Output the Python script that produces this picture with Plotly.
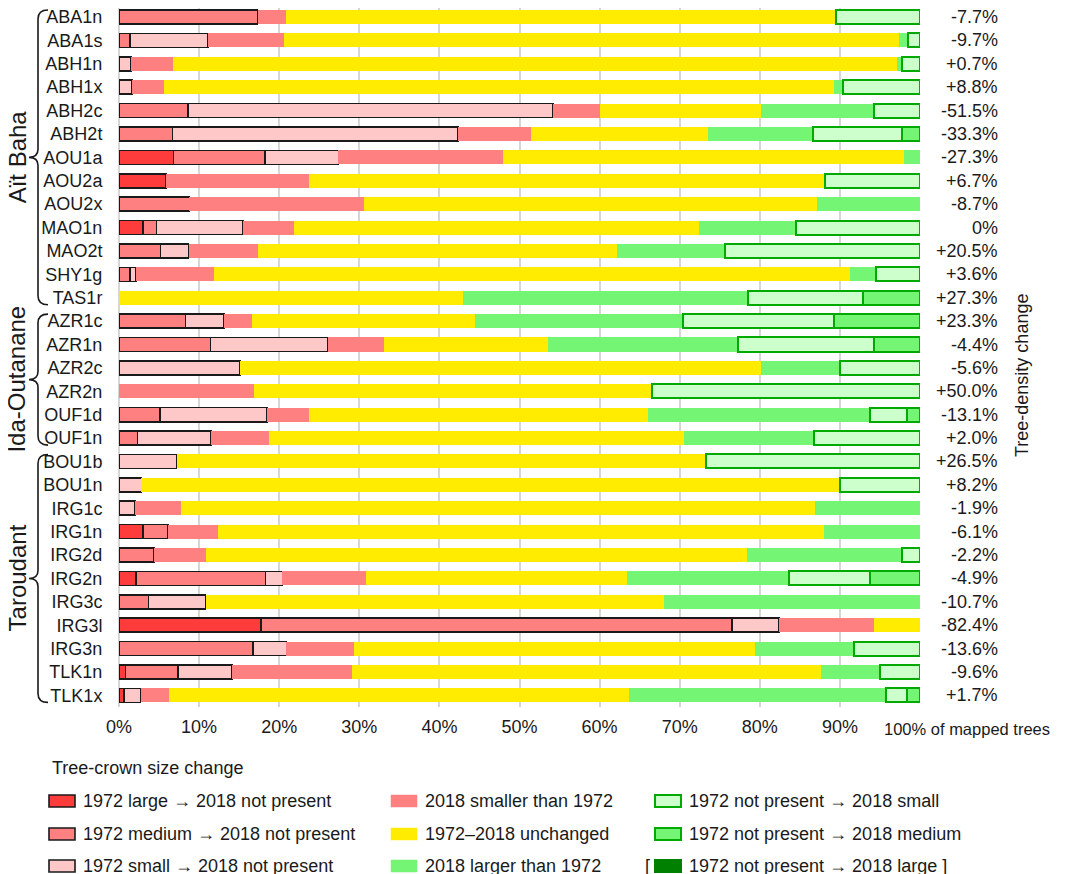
import plotly.graph_objects as go

# sites, top to bottom
sites = ["ABA1n", "ABA1s", "ABH1n", "ABH1x", "ABH2c", "ABH2t", "AOU1a", "AOU2a", "AOU2x",
         "MAO1n", "MAO2t", "SHY1g", "TAS1r",
         "AZR1c", "AZR1n", "AZR2c", "AZR2n", "OUF1d", "OUF1n",
         "BOU1b", "BOU1n", "IRG1c", "IRG1n", "IRG2d", "IRG2n", "IRG3c", "IRG3l", "IRG3n",
         "TLK1n", "TLK1x"]

# % of mapped trees per crown-size change class
large_lost = [0, 0, 0, 0, 0, 0, 6.8, 5.9, 0, 3.0, 0, 0, 0,
              0, 0, 0, 0, 0, 0,
              0, 0, 0, 3.0, 0, 2.1, 0, 17.7, 0, 0.8, 0.65]
medium_lost = [17.3, 1.4, 0, 0, 8.6, 6.7, 11.4, 0, 8.8, 1.7, 5.2, 1.4, 0,
               8.3, 11.4, 0, 0, 5.1, 2.3,
               0, 0, 0, 3.1, 4.4, 16.2, 3.7, 58.8, 16.7, 6.6, 0]
small_lost = [0, 9.7, 1.5, 1.6, 45.6, 35.6, 9.2, 0, 0, 10.8, 3.5, 0.75, 0,
              4.8, 14.7, 15.1, 0, 13.4, 9.2,
              7.2, 2.8, 2.0, 0, 0, 2.1, 7.1, 5.9, 4.2, 6.7, 2.05]
smaller = [3.6, 9.5, 5.2, 4.0, 5.9, 9.1, 20.6, 17.8, 21.8, 6.3, 8.7, 9.75, 0,
           3.5, 7.0, 0, 16.9, 5.2, 7.25,
           0, 0, 5.7, 6.2, 6.5, 10.4, 0, 11.9, 8.5, 15.0, 3.5]
unchanged = [68.6, 76.8, 90.4, 83.7, 20.1, 22.1, 50.0, 64.5, 56.6, 50.6, 44.8, 79.4, 43.0,
             27.9, 20.4, 65.1, 49.7, 42.3, 51.75,
             66.1, 87.2, 79.2, 75.7, 67.5, 32.6, 57.2, 5.7, 50.0, 58.6, 57.5]
larger = [0, 1.1, 0.7, 1.1, 14.0, 13.2, 2.0, 0, 12.8, 12.1, 13.5, 3.2, 35.5,
          25.9, 23.8, 9.8, 0, 27.8, 16.3,
          0, 0, 13.1, 12.0, 19.3, 20.3, 32.0, 0, 12.3, 7.3, 32.0]
new_small = [10.5, 1.5, 2.2, 9.6, 5.8, 11.1, 0, 11.8, 0, 15.5, 24.3, 5.5, 14.4,
             18.9, 17.0, 10.0, 33.4, 4.6, 13.2,
             26.7, 10.0, 0, 0, 2.3, 10.1, 0, 0, 8.3, 5.0, 2.7]
new_medium = [0, 0, 0, 0, 0, 2.2, 0, 0, 0, 0, 0, 0, 7.1,
              10.7, 5.7, 0, 0, 1.6, 0,
              0, 0, 0, 0, 0, 6.2, 0, 0, 0, 0, 1.6]

density_change = ["-7.7%", "-9.7%", "+0.7%", "+8.8%", "-51.5%", "-33.3%", "-27.3%", "+6.7%",
                  "-8.7%", "0%", "+20.5%", "+3.6%", "+27.3%", "+23.3%", "-4.4%", "-5.6%",
                  "+50.0%", "-13.1%", "+2.0%", "+26.5%", "+8.2%", "-1.9%", "-6.1%", "-2.2%",
                  "-4.9%", "-10.7%", "-82.4%", "-13.6%", "-9.6%", "+1.7%"]

regions = ["Aït Baha", "Ida-Outanane", "Taroudant"]
region_rows = [(0, 12), (13, 18), (19, 29)]

x_ticks = [0, 10, 20, 30, 40, 50, 60, 70, 80, 90, 100]

FONT = "Liberation Sans, Arial, sans-serif"
TXT = "#1a1a1a"
GREEN_LINE = "#00aa00"
FS = 18

series = [
    ("1972 large \u2192 2018 not present", large_lost, "#ff3c3c", "#1a1a1a", 1.6),
    ("1972 medium \u2192 2018 not present", medium_lost, "#ff8080", "#1a1a1a", 1.6),
    ("1972 small \u2192 2018 not present", small_lost, "#ffc8c8", "#1a1a1a", 1.6),
    ("2018 smaller than 1972", smaller, "#ff8080", None, 0),
    ("1972\u20132018 unchanged", unchanged, "#ffec00", None, 0),
    ("2018 larger than 1972", larger, "#74f574", None, 0),
    ("1972 not present \u2192 2018 small", new_small, "#ccffcc", GREEN_LINE, 2),
    ("1972 not present \u2192 2018 medium", new_medium, "#74f574", GREEN_LINE, 2),
]

# the page body adds an 8px offset, so the figure is 8px smaller; coordinates below
# are page pixels and get converted by px()/py()
OFF = 8
W, H = 1065 - OFF, 874 - OFF
ML, MT = 119 - OFF, 0
PW = 801
PH = 707 - OFF - MT
MR, MB = W - ML - PW, H - MT - PH
FIRST, LAST = 17, 695.4          # page y of first / last row centre
ROW = (LAST - FIRST) / (len(sites) - 1)
Y_TOP = -(FIRST - OFF - MT) / ROW
Y_BOT = Y_TOP + PH / ROW


def px(x):
    return (x - OFF - ML) / PW


def py(y):
    return 1 - (y - OFF - MT) / PH


fig = go.Figure()
for name, vals, color, lcolor, lw in series:
    fig.add_trace(go.Bar(
        y=sites, x=[v if v > 0 else None for v in vals], orientation="h", name=name,
        marker=dict(color=color, line=dict(color=lcolor or color, width=lw)),
        showlegend=False, cliponaxis=False,
        hovertemplate="%{y}: %{x}%<extra>" + name + "</extra>",
    ))

annotations = []
shapes = []


def label(x, y, text, size=FS, xanchor="center", angle=0):
    annotations.append(dict(x=px(x), y=py(y), xref="paper", yref="paper", text=text,
                            showarrow=False, xanchor=xanchor, yanchor="middle",
                            textangle=angle, font=dict(size=size, color=TXT, family=FONT)))


# tree-density change labels on the right
for s, d in zip(sites, density_change):
    annotations.append(dict(x=px(1000), xref="paper", y=s, yref="y", text=d, showarrow=False,
                            xanchor="right", yanchor="middle",
                            font=dict(size=FS, color=TXT, family=FONT)))

label(1022, 376, "Tree-density change", angle=-90)
label(882, 729, "100% of mapped trees", size=16.5, xanchor="left")

# region braces and labels
for reg, (r0, r1) in zip(regions, region_rows):
    top = FIRST + r0 * ROW - 7
    bot = FIRST + r1 * ROW + 7
    mid = (top + bot) / 2
    xl, xt, xe = 38, 29, 48
    path = (f"M{px(xe)},{py(top)} Q{px(xl)},{py(top)} {px(xl)},{py(top + 9)} "
            f"L{px(xl)},{py(mid - 8)} Q{px(xl)},{py(mid)} {px(xt)},{py(mid)} "
            f"Q{px(xl)},{py(mid)} {px(xl)},{py(mid + 8)} "
            f"L{px(xl)},{py(bot - 9)} Q{px(xl)},{py(bot)} {px(xe)},{py(bot)}")
    shapes.append(dict(type="path", path=path, xref="paper", yref="paper",
                       line=dict(color=TXT, width=1.6)))
    label(17, mid, reg, size=24, angle=-90)

# legend drawn by hand in three columns
label(50, 768, "Tree-crown size change", xanchor="left")
col_x = [48, 390, 654]
row_y = [801, 834, 866]
legend_items = [(s[0], s[2], s[3], s[4]) for s in series]
legend_items.append(("1972 not present \u2192 2018 large ]", "#008000", "#008000", 2))
for i, (name, color, lcolor, lw) in enumerate(legend_items):
    cx, cy = col_x[i // 3], row_y[i % 3]
    shapes.append(dict(type="rect", xref="paper", yref="paper",
                       x0=px(cx + 1), x1=px(cx + 27), y0=py(cy - 6), y1=py(cy + 6),
                       fillcolor=color,
                       line=dict(color=lcolor or color, width=max(lw, 0.5))))
    label(cx + 33, cy, name, xanchor="left")
label(647, row_y[2], "[")

fig.update_layout(
    width=W, height=H,
    margin=dict(l=ML, r=MR, t=MT, b=MB, autoexpand=False),
    barmode="stack", bargap=0.4,
    plot_bgcolor="white", paper_bgcolor="white",
    font=dict(family=FONT, size=FS, color=TXT),
    xaxis=dict(range=[0, 100], tickvals=x_ticks,
               ticktext=[f"{v}%" for v in x_ticks[:-1]] + [""],
               showgrid=True, gridcolor="#d6d6d6", gridwidth=1.5,
               zeroline=True, zerolinecolor="#d6d6d6", zerolinewidth=1.5,
               showline=False, ticks="outside", ticklen=3, tickcolor="rgba(0,0,0,0)",
               tickfont=dict(size=FS, color=TXT, family=FONT)),
    yaxis=dict(categoryorder="array", categoryarray=sites,
               range=[Y_BOT, Y_TOP], showgrid=False, zeroline=False,
               ticks="outside", ticklen=12, tickcolor="rgba(0,0,0,0)",
               tickfont=dict(size=FS, color=TXT, family=FONT)),
    shapes=shapes,
    annotations=annotations,
)

fig.write_html("out.html")
